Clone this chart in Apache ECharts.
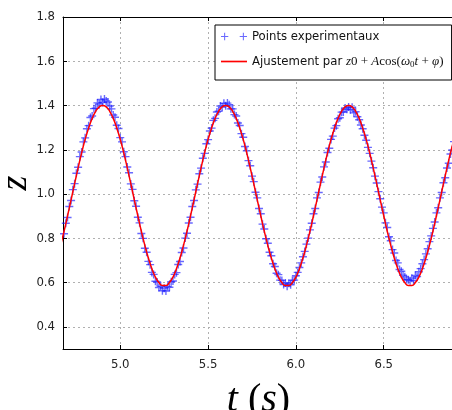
<!DOCTYPE html>
<html>
<head>
<meta charset="utf-8">
<script src="https://cdn.jsdelivr.net/npm/echarts@6/dist/echarts.min.js"></script>
<style>
  html, body { margin: 0; padding: 0; background: #fff; }
  #chart { width: 452px; height: 410px; }
</style>
</head>
<body>
<div id="chart"></div>
<script>
// axis limits
const xLimits = [4.674, 6.90]
const yLimits = [0.3, 1.8]

// experimental points (t in s, z)
const expT = [
  4.67, 4.68, 4.69,
  4.70, 4.71, 4.72, 4.73, 4.74, 4.75, 4.76, 4.77, 4.78, 4.79,
  4.80, 4.81, 4.82, 4.83, 4.84, 4.85, 4.86, 4.87, 4.88, 4.89,
  4.90, 4.91, 4.92, 4.93, 4.94, 4.95, 4.96, 4.97, 4.98, 4.99,
  5.00, 5.01, 5.02, 5.03, 5.04, 5.05, 5.06, 5.07, 5.08, 5.09,
  5.10, 5.11, 5.12, 5.13, 5.14, 5.15, 5.16, 5.17, 5.18, 5.19,
  5.20, 5.21, 5.22, 5.23, 5.24, 5.25, 5.26, 5.27, 5.28, 5.29,
  5.30, 5.31, 5.32, 5.33, 5.34, 5.35, 5.36, 5.37, 5.38, 5.39,
  5.40, 5.41, 5.42, 5.43, 5.44, 5.45, 5.46, 5.47, 5.48, 5.49,
  5.50, 5.51, 5.52, 5.53, 5.54, 5.55, 5.56, 5.57, 5.58, 5.59,
  5.60, 5.61, 5.62, 5.63, 5.64, 5.65, 5.66, 5.67, 5.68, 5.69,
  5.70, 5.71, 5.72, 5.73, 5.74, 5.75, 5.76, 5.77, 5.78, 5.79,
  5.80, 5.81, 5.82, 5.83, 5.84, 5.85, 5.86, 5.87, 5.88, 5.89,
  5.90, 5.91, 5.92, 5.93, 5.94, 5.95, 5.96, 5.97, 5.98, 5.99,
  6.00, 6.01, 6.02, 6.03, 6.04, 6.05, 6.06, 6.07, 6.08, 6.09,
  6.10, 6.11, 6.12, 6.13, 6.14, 6.15, 6.16, 6.17, 6.18, 6.19,
  6.20, 6.21, 6.22, 6.23, 6.24, 6.25, 6.26, 6.27, 6.28, 6.29,
  6.30, 6.31, 6.32, 6.33, 6.34, 6.35, 6.36, 6.37, 6.38, 6.39,
  6.40, 6.41, 6.42, 6.43, 6.44, 6.45, 6.46, 6.47, 6.48, 6.49,
  6.50, 6.51, 6.52, 6.53, 6.54, 6.55, 6.56, 6.57, 6.58, 6.59,
  6.60, 6.61, 6.62, 6.63, 6.64, 6.65, 6.66, 6.67, 6.68, 6.69,
  6.70, 6.71, 6.72, 6.73, 6.74, 6.75, 6.76, 6.77, 6.78, 6.79,
  6.80, 6.81, 6.82, 6.83, 6.84, 6.85, 6.86, 6.87, 6.88, 6.89,
  6.90
]
const expZ = [
  0.795, 0.821, 0.868,
  0.894, 0.944, 0.971, 1.020, 1.047, 1.094, 1.121, 1.169, 1.190, 1.236,
  1.254, 1.295, 1.309, 1.346, 1.353, 1.386, 1.388, 1.412, 1.407, 1.427,
  1.414, 1.429, 1.421, 1.416, 1.398, 1.385, 1.357, 1.347, 1.311, 1.296,
  1.255, 1.236, 1.191, 1.169, 1.122, 1.096, 1.046, 1.021, 0.970, 0.945,
  0.895, 0.870, 0.822, 0.800, 0.755, 0.737, 0.696, 0.681, 0.646, 0.637,
  0.606, 0.603, 0.578, 0.583, 0.563, 0.575, 0.562, 0.582, 0.579, 0.604,
  0.607, 0.637, 0.645, 0.682, 0.695, 0.736, 0.756, 0.801, 0.823, 0.869,
  0.895, 0.944, 0.971, 1.019, 1.045, 1.092, 1.117, 1.162, 1.184, 1.227,
  1.246, 1.285, 1.298, 1.333, 1.342, 1.371, 1.374, 1.398, 1.393, 1.410,
  1.399, 1.411, 1.404, 1.385, 1.385, 1.359, 1.353, 1.321, 1.310, 1.273,
  1.257, 1.215, 1.195, 1.151, 1.128, 1.081, 1.056, 1.008, 0.983, 0.935,
  0.911, 0.864, 0.842, 0.798, 0.778, 0.737, 0.721, 0.685, 0.673, 0.642,
  0.636, 0.611, 0.610, 0.591, 0.598, 0.584, 0.597, 0.590, 0.610, 0.611,
  0.631, 0.646, 0.668, 0.689, 0.717, 0.741, 0.774, 0.801, 0.838, 0.868,
  0.911, 0.935, 0.983, 1.007, 1.054, 1.077, 1.123, 1.145, 1.188, 1.207,
  1.247, 1.262, 1.298, 1.309, 1.340, 1.345, 1.370, 1.371, 1.389, 1.383,
  1.393, 1.381, 1.392, 1.367, 1.372, 1.349, 1.336, 1.312, 1.295, 1.266,
  1.243, 1.211, 1.184, 1.149, 1.119, 1.081, 1.050, 1.011, 0.979, 0.941,
  0.915, 0.870, 0.849, 0.807, 0.789, 0.749, 0.734, 0.700, 0.689, 0.659,
  0.651, 0.633, 0.626, 0.614, 0.613, 0.608, 0.620, 0.609, 0.632, 0.627,
  0.649, 0.663, 0.685, 0.704, 0.730, 0.753, 0.785, 0.811, 0.845, 0.874,
  0.915, 0.938, 0.983, 1.007, 1.051, 1.074, 1.118, 1.139, 1.181, 1.199,
  1.237
]

// fitted curve z0 + A cos(w0 t + phi)
const fitT = [
  4.66, 4.68, 4.70, 4.72, 4.74, 4.76, 4.78, 4.80, 4.82, 4.84, 4.86, 4.88,
  4.90, 4.92, 4.94, 4.96, 4.98, 5.00, 5.02, 5.04, 5.06, 5.08,
  5.10, 5.12, 5.14, 5.16, 5.18, 5.20, 5.22, 5.24, 5.26, 5.28,
  5.30, 5.32, 5.34, 5.36, 5.38, 5.40, 5.42, 5.44, 5.46, 5.48,
  5.50, 5.52, 5.54, 5.56, 5.58, 5.60, 5.62, 5.64, 5.66, 5.68,
  5.70, 5.72, 5.74, 5.76, 5.78, 5.80, 5.82, 5.84, 5.86, 5.88,
  5.90, 5.92, 5.94, 5.96, 5.98, 6.00, 6.02, 6.04, 6.06, 6.08,
  6.10, 6.12, 6.14, 6.16, 6.18, 6.20, 6.22, 6.24, 6.26, 6.28,
  6.30, 6.32, 6.34, 6.36, 6.38, 6.40, 6.42, 6.44, 6.46, 6.48,
  6.50, 6.52, 6.54, 6.56, 6.58, 6.60, 6.62, 6.64, 6.66, 6.68,
  6.70, 6.72, 6.74, 6.76, 6.78, 6.80, 6.82, 6.84, 6.86, 6.88,
  6.90
]
const fitZ = [
  0.768, 0.832, 0.902, 0.974, 1.047, 1.118, 1.186, 1.247, 1.299, 1.342, 1.374, 1.394,
  1.400, 1.394, 1.374, 1.342, 1.299, 1.247, 1.186, 1.118, 1.047, 0.974,
  0.902, 0.832, 0.768, 0.711, 0.663, 0.625, 0.600, 0.587, 0.587, 0.600,
  0.625, 0.663, 0.711, 0.768, 0.832, 0.902, 0.974, 1.047, 1.118, 1.186,
  1.247, 1.299, 1.342, 1.374, 1.394, 1.400, 1.394, 1.374, 1.342, 1.299,
  1.247, 1.186, 1.118, 1.047, 0.974, 0.902, 0.832, 0.768, 0.711, 0.663,
  0.625, 0.600, 0.587, 0.587, 0.600, 0.625, 0.663, 0.711, 0.768, 0.832,
  0.902, 0.974, 1.047, 1.118, 1.186, 1.247, 1.299, 1.342, 1.374, 1.394,
  1.400, 1.394, 1.374, 1.342, 1.299, 1.247, 1.186, 1.118, 1.047, 0.974,
  0.902, 0.832, 0.768, 0.711, 0.663, 0.625, 0.600, 0.587, 0.587, 0.600,
  0.625, 0.663, 0.711, 0.768, 0.832, 0.902, 0.974, 1.047, 1.118, 1.186,
  1.247
]

const seriesNames = ['Points experimentaux', 'Ajustement']

const labelFont = "'DejaVu Sans Condensed', 'Liberation Sans Narrow', 'DejaVu Sans', sans-serif"
const mathFont = "'Liberation Serif', 'DejaVu Serif', serif"

const plusPath = 'path://M0,3.3h8v1.4h-8z M3.3,0h1.4v8h-1.4z'
const legendPlus = 'path://M0,3h7v1h-7z M3,0h1v7h-1z M18,3h7v1h-7z M21,0h1v7h-1z'
const legendLine = 'path://M0,0h25v1.6h-25z'

const chart = echarts.init(document.getElementById('chart'))

const option = {
  backgroundColor: '#fff',
  animation: false,
  grid: { left: 63, top: 17, right: -2, bottom: 61, containLabel: false, outerBoundsMode: 'none' },
  legend: {
    orient: 'vertical',
    left: 215,
    top: 25,
    padding: [5, 8, 11, 6],
    itemGap: 12,
    itemWidth: 26,
    itemHeight: 14,
    backgroundColor: '#fff',
    borderColor: '#000',
    borderWidth: 1,
    borderRadius: 0,
    data: [
      { name: seriesNames[0], icon: legendPlus },
      { name: seriesNames[1], icon: legendLine }
    ],
    formatter: name => name === seriesNames[1]
      ? '{a|Ajustement par }{m|z}{n|0 + }{m|A}{n|cos(}{m|ω}{s|0}{m|t}{n| + }{m|φ}{n|)}'
      : name,
    textStyle: {
      fontFamily: labelFont,
      fontSize: 13,
      color: '#111',
      rich: {
        a: { fontFamily: labelFont, fontSize: 13, color: '#111' },
        m: { fontFamily: mathFont, fontStyle: 'italic', fontSize: 13, color: '#111' },
        n: { fontFamily: mathFont, fontSize: 13, color: '#111' },
        s: { fontFamily: mathFont, fontSize: 9, color: '#111', verticalAlign: 'bottom', padding: [6, 0, 0, 0] }
      }
    }
  },
  xAxis: [
    {
      type: 'value',
      min: xLimits[0],
      max: xLimits[1],
      splitNumber: 5,
      minInterval: 0.5,
      maxInterval: 0.5,
      name: '{i|t}{r| (}{i|s}{r|)}',
      nameLocation: 'middle',
      nameGap: 31,
      nameTextStyle: {
        rich: {
          i: { fontFamily: mathFont, fontStyle: 'italic', fontSize: 40, color: '#000' },
          r: { fontFamily: mathFont, fontSize: 40, color: '#000' }
        }
      },
      axisLine: { show: true, onZero: false, lineStyle: { color: '#000', width: 1 } },
      axisTick: { show: true, inside: true, length: 4, lineStyle: { color: '#000' } },
      axisLabel: {
        showMinLabel: false,
        showMaxLabel: false,
        margin: 9,
        fontFamily: labelFont,
        fontSize: 13,
        color: '#222',
        formatter: v => v.toFixed(1)
      },
      splitLine: { show: true, lineStyle: { color: '#b0b0b0', type: [2, 3], width: 1 } }
    },
    {
      type: 'value',
      position: 'top',
      min: xLimits[0],
      max: xLimits[1],
      splitNumber: 5,
      minInterval: 0.5,
      maxInterval: 0.5,
      axisLine: { show: true, onZero: false, lineStyle: { color: '#000', width: 1 } },
      axisTick: { show: true, inside: true, length: 4, lineStyle: { color: '#000' } },
      axisLabel: { show: false },
      splitLine: { show: false }
    }
  ],
  yAxis: {
    type: 'value',
    min: yLimits[0],
    max: yLimits[1],
    splitNumber: 7,
    minInterval: 0.2,
    maxInterval: 0.2,
    name: 'z',
    nameLocation: 'middle',
    nameRotate: 90,
    nameGap: 28,
    nameMoveOverlap: false,
    nameTextStyle: { fontFamily: mathFont, fontStyle: 'italic', fontSize: 38, color: '#000' },
    axisLine: { show: true, onZero: false, lineStyle: { color: '#000', width: 1 } },
    axisTick: { show: true, inside: true, length: 4, lineStyle: { color: '#000' } },
    axisLabel: {
      showMinLabel: false,
      margin: 8,
      fontFamily: labelFont,
      fontSize: 13,
      color: '#222',
      formatter: v => v.toFixed(1)
    },
    splitLine: { show: true, lineStyle: { color: '#b0b0b0', type: [2, 3], width: 1 } }
  },
  series: [
    {
      name: seriesNames[0],
      type: 'scatter',
      data: expT.map((t, i) => [t, expZ[i]]),
      symbol: plusPath,
      symbolSize: 8,
      itemStyle: { color: 'rgba(20, 20, 255, 0.8)' },
      z: 2
    },
    {
      name: seriesNames[1],
      type: 'line',
      data: fitT.map((t, i) => [t, fitZ[i]]),
      showSymbol: false,
      smooth: true,
      clip: true,
      lineStyle: { color: '#ff0000', width: 1.5 },
      itemStyle: { color: '#ff0000' },
      z: 3
    }
  ]
}

chart.setOption(option)

window.addEventListener('resize', () => chart.resize())
</script>
</body>
</html>
